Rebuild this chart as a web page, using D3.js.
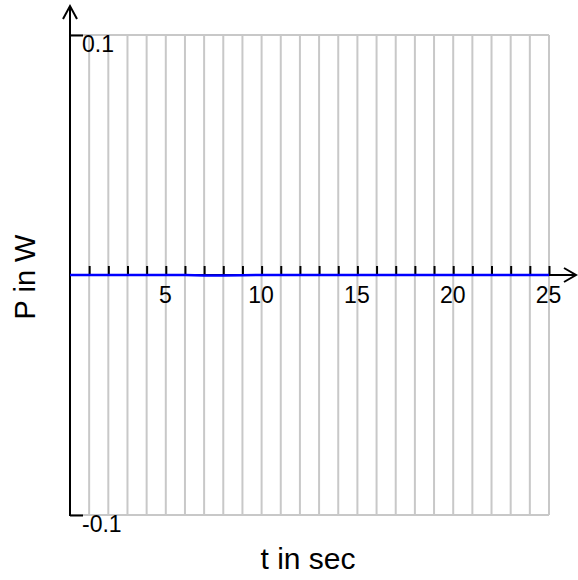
<!DOCTYPE html>
<html>
<head>
<meta charset="utf-8">
<script src="https://cdn.jsdelivr.net/npm/d3@7"></script>
<style>
  html, body { margin: 0; padding: 0; background: #fff; }
  svg { display: block; font-family: "Liberation Sans", Arial, sans-serif; }
</style>
</head>
<body>
<svg id="chart" width="578" height="580"></svg>
<script>
// ---- data ----
const timeValues = [0, 1, 2, 3, 4, 5, 6, 7, 8, 9, 10, 11, 12, 13, 14, 15, 16, 17, 18, 19, 20, 21, 22, 23, 24, 25];
const powerValues = [0, 0, 0, 0, 0, 0, 0, -0.0002, -0.0002, -0.0001, 0, 0, 0, 0, 0, 0, 0, 0, 0, 0, 0, 0, 0, 0, 0, 0];
const xTickValues = [1, 2, 3, 4, 5, 6, 7, 8, 9, 10, 11, 12, 13, 14, 15, 16, 17, 18, 19, 20, 21, 22, 23, 24, 25];
const xTickLabels = [5, 10, 15, 20, 25];
const yTickValues = [-0.1, 0.1];
const yTickLabels = ["-0.1", "0.1"];
const xLabel = "t in sec";
const yLabel = "P in W";

const svg = d3.select("#chart");
const x = d3.scaleLinear().domain([0, 25]).range([70, 549]);
const y = d3.scaleLinear().domain([-0.1, 0.1]).range([515, 35]);

const gridColor = "#c8c8c8";

// vertical grid lines
svg.append("g").selectAll("line").data(xTickValues).join("line")
  .attr("x1", d => x(d)).attr("x2", d => x(d))
  .attr("y1", y(0.1)).attr("y2", y(-0.1))
  .attr("stroke", gridColor).attr("stroke-width", 2);

// horizontal grid lines
svg.append("g").selectAll("line").data(yTickValues).join("line")
  .attr("x1", x(0)).attr("x2", x(25))
  .attr("y1", d => y(d)).attr("y2", d => y(d))
  .attr("stroke", gridColor).attr("stroke-width", 2);

// x axis
const xAxis = d3.axisBottom(x)
  .tickValues(xTickValues)
  .tickSize(-9)
  .tickPadding(12)
  .tickFormat(d => xTickLabels.includes(d) ? String(d) : "");
const gx = svg.append("g").attr("transform", `translate(0,${y(0)})`).call(xAxis);
gx.select(".domain").remove();
gx.selectAll(".tick line").attr("stroke", "#000").attr("stroke-width", 2);
gx.selectAll(".tick text").attr("fill", "#000").attr("font-size", 23)
  .attr("font-family", "Liberation Sans, Arial, sans-serif").attr("dx", -1);

// x axis line with arrow
svg.append("line").attr("x1", x(0)).attr("x2", 576)
  .attr("y1", y(0)).attr("y2", y(0)).attr("stroke", "#000").attr("stroke-width", 2);
svg.append("path").attr("d", `M564,${y(0) - 7}L576,${y(0)}L564,${y(0) + 7}`)
  .attr("fill", "none").attr("stroke", "#000").attr("stroke-width", 2);

// y axis
const yAxis = d3.axisRight(y).tickValues(yTickValues).tickSize(13)
  .tickFormat((d, i) => yTickLabels[i]);
const gy = svg.append("g").attr("transform", `translate(${x(0)},0)`).call(yAxis);
gy.select(".domain").remove();
gy.selectAll(".tick line").attr("stroke", "#000").attr("stroke-width", 2);
gy.selectAll(".tick text").attr("fill", "#000").attr("font-size", 23)
  .attr("font-family", "Liberation Sans, Arial, sans-serif")
  .attr("x", 12).attr("dy", 16).attr("text-anchor", "start");

svg.append("line").attr("x1", x(0)).attr("x2", x(0))
  .attr("y1", y(-0.1) + 1).attr("y2", 6).attr("stroke", "#000").attr("stroke-width", 2);
svg.append("path").attr("d", `M${x(0) - 7},19L${x(0)},6L${x(0) + 7},19`)
  .attr("fill", "none").attr("stroke", "#000").attr("stroke-width", 2);

// data line
const line = d3.line().x((d, i) => x(timeValues[i])).y(d => y(d));
svg.append("path").datum(powerValues).attr("d", line)
  .attr("fill", "none").attr("stroke", "#0000ff").attr("stroke-width", 2.5);

// axis labels
svg.append("text").attr("x", 308).attr("y", 569).attr("text-anchor", "middle")
  .attr("font-size", 30).attr("fill", "#000").text(xLabel);
svg.append("text").attr("transform", `translate(35,277) rotate(-90)`)
  .attr("text-anchor", "middle").attr("font-size", 29).attr("fill", "#000").text(yLabel);
</script>
</body>
</html>
